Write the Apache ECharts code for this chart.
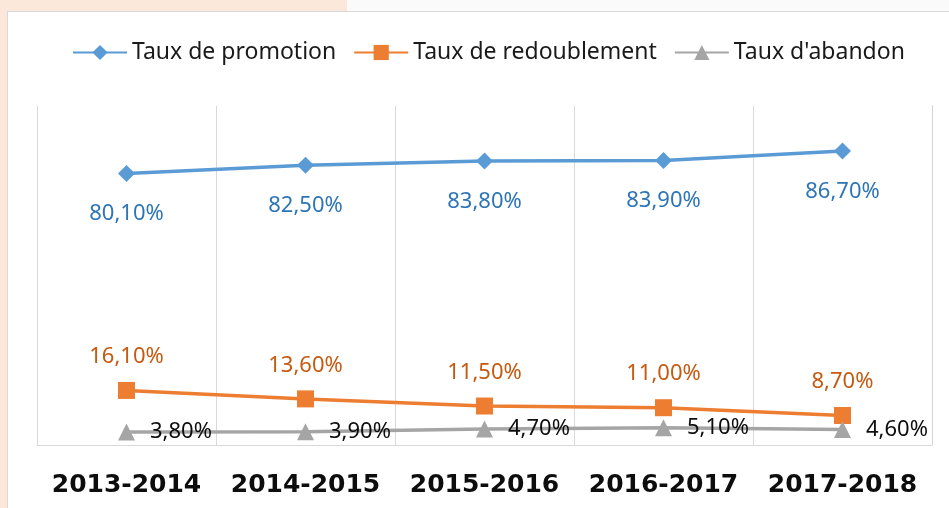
<!DOCTYPE html>
<html>
<head>
<meta charset="utf-8">
<script src="https://cdn.jsdelivr.net/npm/echarts@6/dist/echarts.min.js"></script>
<style>
  html, body { margin: 0; padding: 0; width: 949px; height: 508px; overflow: hidden; background: #fafafa; }
  #peachTop { position: absolute; left: 0; top: 0; width: 347px; height: 11px; background: #fbe8da; }
  #peachLeft { position: absolute; left: 0; top: 0; width: 7px; height: 508px; background: #fbe8da; }
  #frame { position: absolute; left: 7px; top: 11px; width: 942px; height: 497px; background: #fff;
           border-left: 1px solid #d9d9d9; border-top: 1px solid #d9d9d9; box-sizing: border-box; }
  #chart { position: absolute; left: 8px; top: 12px; width: 941px; height: 496px; z-index: 1; }
  #plotEdge { position: absolute; left: 932px; top: 105px; width: 1px; height: 340px; background: #d4d4d4; z-index: 2; }
</style>
</head>
<body>
<div id="peachTop"></div>
<div id="peachLeft"></div>
<div id="frame"></div>
<div id="chart"></div>
<div id="plotEdge"></div>
<script>
// années scolaires
const years = ['2013-2014', '2014-2015', '2015-2016', '2016-2017', '2017-2018']
// taux en %
const promotion = [80.1, 82.5, 83.8, 83.9, 86.7]
const redoublement = [16.1, 13.6, 11.5, 11.0, 8.7]
const abandon = [3.8, 3.9, 4.7, 5.1, 4.6]

const fmt = p => p.value.toFixed(2).replace('.', ',') + '%'

const chart = echarts.init(document.getElementById('chart'))

const option = {
  animation: false,
  backgroundColor: 'transparent',
  textStyle: { fontFamily: 'Noto Sans' },
  legend: {
    top: 29,
    left: 64,
    padding: 0,
    itemWidth: 54,
    itemHeight: 19,
    itemGap: 17,
    textStyle: { fontSize: 23, color: '#1a1a1a', fontFamily: 'Noto Sans' },
    data: ['Taux de promotion', 'Taux de redoublement', "Taux d'abandon"]
  },
  grid: { left: 29, right: 17, top: 94, bottom: 63 },
  xAxis: [
    {
      type: 'category',
      data: years,
      boundaryGap: true,
      axisLine: { lineStyle: { color: '#d9d9d9', width: 1 } },
      axisTick: { show: false },
      splitLine: { show: false },
      axisLabel: {
        interval: 0,
        margin: 28,
        fontSize: 25,
        fontWeight: 'bold',
        color: '#0d0d0d',
        fontFamily: 'DejaVu Sans'
      }
    },
    {
      // axe auxiliaire : quadrillage vertical entre les catégories
      type: 'value',
      min: 0,
      max: years.length,
      interval: 1,
      position: 'top',
      axisLine: { show: false },
      axisTick: { show: false },
      axisLabel: { show: false },
      splitLine: { show: true, lineStyle: { color: '#d9d9d9', width: 1 } }
    }
  ],
  yAxis: {
    type: 'value',
    min: 0,
    max: 100,
    show: false,
    splitLine: { show: false }
  },
  series: [
    {
      name: 'Taux de promotion',
      type: 'line',
      data: promotion,
      symbol: 'diamond',
      symbolSize: 17,
      lineStyle: { color: '#5b9bd5', width: 3.5 },
      itemStyle: { color: '#5b9bd5' },
      label: { show: true, position: 'bottom', distance: 21, formatter: fmt, fontSize: 22, color: '#2e75b6' }
    },
    {
      name: 'Taux de redoublement',
      type: 'line',
      data: redoublement,
      symbol: 'rect',
      symbolSize: 17,
      lineStyle: { color: '#ed7d31', width: 3.5 },
      itemStyle: { color: '#ed7d31' },
      label: { show: true, position: 'top', distance: 14, formatter: fmt, fontSize: 22, color: '#c55a11' }
    },
    {
      name: "Taux d'abandon",
      type: 'line',
      data: abandon,
      symbol: 'triangle',
      symbolSize: 17,
      lineStyle: { color: '#a5a5a5', width: 3.5 },
      itemStyle: { color: '#a5a5a5' },
      label: { show: true, position: 'right', distance: 15, formatter: fmt, fontSize: 22, color: '#0d0d0d' }
    }
  ]
}

chart.setOption(option)
</script>
</body>
</html>
